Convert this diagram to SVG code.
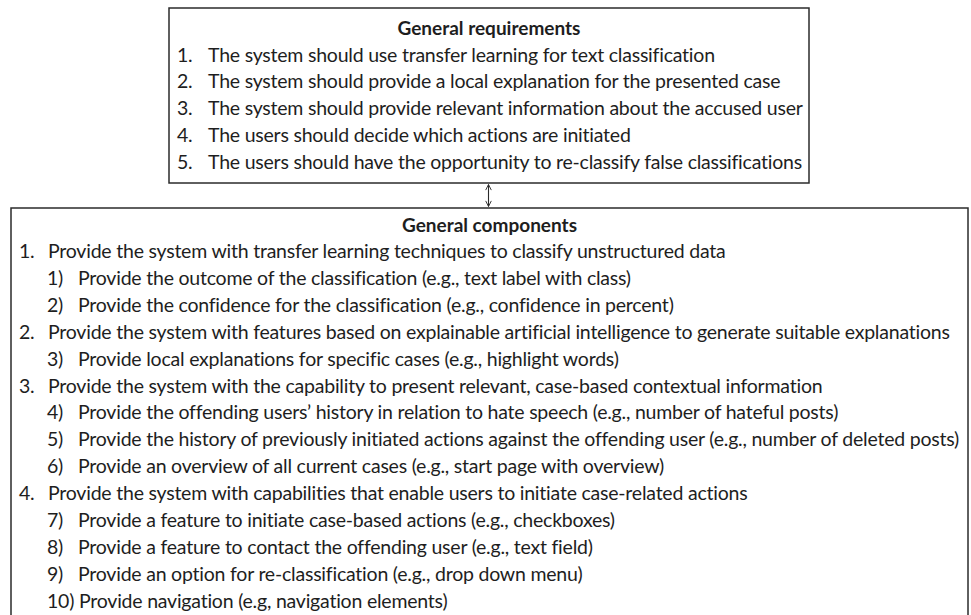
<svg xmlns="http://www.w3.org/2000/svg" width="971" height="615" viewBox="0 0 971 615">
  <defs>
    <style>
      .box { fill: #ffffff; stroke: #2b2b2b; stroke-width: 1.5; }
      .t { font-family: Lato, "Liberation Sans", sans-serif; font-size: 19.5px; letter-spacing: -0.22px; fill: #1e1e1e; }
      .h { font-family: Lato, "Liberation Sans", sans-serif; font-size: 19px; font-weight: bold; fill: #1e1e1e; text-anchor: middle; }
      .conn { stroke: #2b2b2b; stroke-width: 1.1; fill: none; }
    </style>
    <marker id="vee" viewBox="0 0 10 10" refX="9" refY="5" markerWidth="7" markerHeight="8" orient="auto-start-reverse" markerUnits="userSpaceOnUse">
      <path d="M1,1 L9,5 L1,9" fill="none" stroke="#2b2b2b" stroke-width="1.3"/>
    </marker>
  </defs>
  <rect width="971" height="615" fill="#ffffff"/>

  <!-- requirements box -->
  <g id="requirements">
    <rect class="box" x="169" y="8" width="640" height="175"/>
    <text class="h" x="489" y="35">General requirements</text>
    <text class="t" x="177" y="61.5">1.</text><text class="t" x="208" y="61.5">The system should use transfer learning for text classification</text>
    <text class="t" x="177" y="88.4">2.</text><text class="t" x="208" y="88.4">The system should provide a local explanation for the presented case</text>
    <text class="t" x="177" y="115.3">3.</text><text class="t" x="208" y="115.3">The system should provide relevant information about the accused user</text>
    <text class="t" x="177" y="142.2">4.</text><text class="t" x="208" y="142.2">The users should decide which actions are initiated</text>
    <text class="t" x="177" y="169.1">5.</text><text class="t" x="208" y="169.1">The users should have the opportunity to re-classify false classifications</text>
  </g>

  <!-- components box (runs past the lower edge) -->
  <g id="components">
    <rect class="box" x="11" y="208" width="957" height="430"/>
    <text class="h" x="489.5" y="232">General components</text>
    <text class="t" x="19" y="258">1.</text><text class="t" x="48" y="258">Provide the system with transfer learning techniques to classify unstructured data</text>
    <text class="t" x="47" y="284.9">1)</text><text class="t" x="78" y="284.9">Provide the outcome of the classification (e.g., text label with class)</text>
    <text class="t" x="47" y="311.8">2)</text><text class="t" x="78" y="311.8">Provide the confidence for the classification (e.g., confidence in percent)</text>
    <text class="t" x="19" y="338.7">2.</text><text class="t" x="48" y="338.7">Provide the system with features based on explainable artificial intelligence to generate suitable explanations</text>
    <text class="t" x="47" y="365.6">3)</text><text class="t" x="78" y="365.6">Provide local explanations for specific cases (e.g., highlight words)</text>
    <text class="t" x="19" y="392.5">3.</text><text class="t" x="48" y="392.5">Provide the system with the capability to present relevant, case-based contextual information</text>
    <text class="t" x="47" y="419.4">4)</text><text class="t" x="78" y="419.4">Provide the offending users’ history in relation to hate speech (e.g., number of hateful posts)</text>
    <text class="t" x="47" y="446.3">5)</text><text class="t" x="78" y="446.3">Provide the history of previously initiated actions against the offending user (e.g., number of deleted posts)</text>
    <text class="t" x="47" y="473.2">6)</text><text class="t" x="78" y="473.2">Provide an overview of all current cases (e.g., start page with overview)</text>
    <text class="t" x="19" y="500.1">4.</text><text class="t" x="48" y="500.1">Provide the system with capabilities that enable users to initiate case-related actions</text>
    <text class="t" x="47" y="527">7)</text><text class="t" x="78" y="527">Provide a feature to initiate case-based actions (e.g., checkboxes)</text>
    <text class="t" x="47" y="553.9">8)</text><text class="t" x="78" y="553.9">Provide a feature to contact the offending user (e.g., text field)</text>
    <text class="t" x="47" y="580.8">9)</text><text class="t" x="78" y="580.8">Provide an option for re-classification (e.g., drop down menu)</text>
    <text class="t" x="47" y="607.7">10) Provide navigation (e.g, navigation elements)</text>
  </g>

  <!-- connectors -->
  <g id="connectors">
    <line class="conn" x1="488.5" y1="184.5" x2="488.5" y2="206.5" marker-start="url(#vee)" marker-end="url(#vee)"/>
  </g>
</svg>
